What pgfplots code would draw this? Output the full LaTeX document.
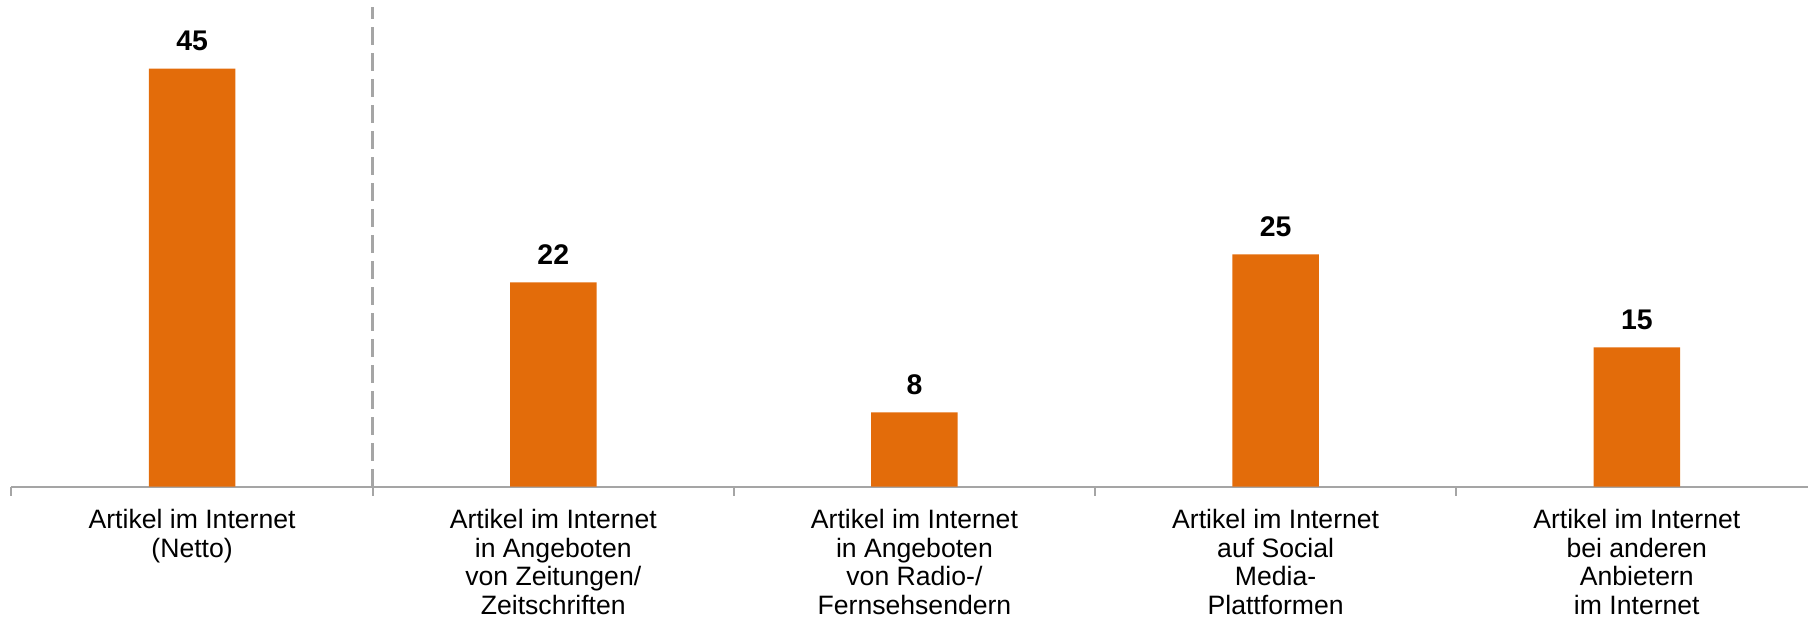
\documentclass[border=0pt]{standalone}
\usepackage{pgfplots}
\pgfplotsset{compat=1.18}
\usepackage{fontspec}
\setmainfont{Liberation Sans}
\definecolor{barorange}{RGB}{227,108,10}
\definecolor{axisgray}{RGB}{165,165,165}
\begin{document}
\begin{tikzpicture}[x=1pt,y=1pt]
\path[use as bounding box] (0,0) rectangle (904,310);
\begin{axis}[
  at={(5.75pt,66.7pt)}, anchor=south west,
  scale only axis, width=898.25pt, height=243.3pt,
  xmin=-0.5, xmax=4.474, ymin=0, ymax=52.4,
  axis y line=none, axis x line*=bottom,
  x axis line style={axisgray, line width=1pt, -},
  xtick={0,1,2,3,4},
  xticklabels={
    {Artikel im Internet\\(Netto)},
    {Artikel im Internet\\in Angeboten\\von Zeitungen/\\Zeitschriften},
    {Artikel im Internet\\in Angeboten\\von Radio-/\\Fernsehsendern},
    {Artikel im Internet\\auf Social\\Media-\\Plattformen},
    {Artikel im Internet\\bei anderen\\Anbietern\\im Internet}},
  major x tick style={draw=none},
  minor xtick={-0.5,0.5,1.5,2.5,3.5},
  minor x tick style={axisgray, line width=1pt},
  minor tick length=4.5pt, tick align=outside,
  x tick label style={font=\fontsize{13.3}{14.3}\selectfont, align=center,
    anchor=north, inner sep=0pt, yshift=-6.8pt},
  ybar, bar width=43.25pt,
  nodes near coords,
  nodes near coords style={font=\fontsize{14.2}{16}\selectfont\bfseries,
    anchor=south, inner sep=0pt, yshift=8.8pt, text=black},
  /pgf/number format/assume math mode=true,
  clip=false,
]
\addplot[fill=barorange, draw=none] coordinates {(0,45) (1,22) (2,8) (3,25) (4,15)};
\draw[axisgray, line width=1.2pt, dash pattern=on 9pt off 4pt]
  (axis cs:0.5,0) -- (axis cs:0.5,51.6);
\end{axis}
\end{tikzpicture}
\end{document}
